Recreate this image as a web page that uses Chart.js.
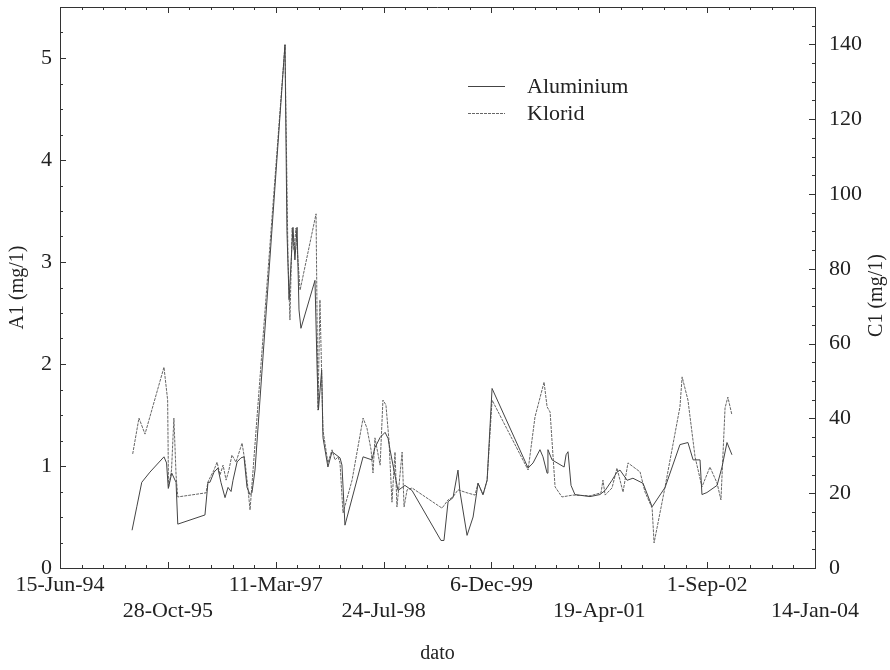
<!DOCTYPE html>
<html><head><meta charset="utf-8">
<script src="https://cdn.jsdelivr.net/npm/chart.js@4/dist/chart.umd.min.js"></script>
<style>html,body{margin:0;padding:0;background:#fff}#wrap{width:890px;height:670px}</style>
</head><body><div id="wrap"><canvas id="c" width="890" height="670"></canvas></div>
<script>
// x axis: days since 15-Jun-1994, one tick label every 500 days
const tickLabels = ['15-Jun-94','28-Oct-95','11-Mar-97','24-Jul-98','6-Dec-99','19-Apr-01','1-Sep-02','14-Jan-04'];

// Aluminium (mg/l), left axis
const alDays = [334,356,379,417,482,494,502,518,538,546,672,686,695,714,732,746,765,779,793,802,821,839,853,867,881,890,904,
  1043,1052,1062,1080,1089,1099,1108,1117,1182,1192,1198,1213,1219,1242,1261,1298,1307,1321,1405,1446,1460,1484,1507,1521,1530,
  1548,1567,1599,1632,1766,1780,1799,1822,1845,1854,1887,1915,1938,1961,1980,2003,2170,2193,2225,2239,2258,2262,2281,2337,2346,
  2355,2369,2387,2457,2503,2527,2559,2582,2596,2629,2656,2703,2745,2805,2874,2911,2935,2967,2976,2999,3046,3069,3092,3115];
const alValues = [0.37,0.60,0.84,0.94,1.09,1.03,0.78,0.93,0.84,0.43,0.52,0.84,0.84,0.94,0.98,0.84,0.69,0.79,0.75,0.86,1.04,1.08,1.09,0.79,0.72,0.74,0.96,
  5.13,3.31,2.63,3.34,3.02,3.34,2.53,2.35,2.82,1.94,1.55,1.94,1.28,0.99,1.14,1.08,1.01,0.42,1.09,1.06,1.18,1.28,1.33,1.27,1.16,
  0.96,0.76,0.81,0.76,0.27,0.27,0.65,0.69,0.96,0.75,0.32,0.50,0.83,0.72,0.86,1.76,0.98,1.03,1.16,1.09,0.93,1.16,1.06,0.99,1.11,
  1.14,0.81,0.72,0.70,0.72,0.76,0.86,0.94,0.96,0.86,0.88,0.83,0.60,0.79,1.21,1.23,1.06,1.06,0.72,0.74,0.81,0.99,1.23,1.11];

// Klorid (mg/l), right axis
const clDays = [337,366,394,482,499,503,517,528,538,546,677,686,695,714,728,742,756,770,783,797,816,834,844,858,872,881,895,
  1043,1057,1066,1076,1085,1094,1103,1113,1187,1196,1205,1219,1242,1261,1275,1289,1298,1312,1354,1405,1423,1442,1451,1460,1484,
  1497,1511,1525,1539,1553,1562,1586,1595,1609,1632,1771,1799,1822,1845,1887,1924,1938,1961,1980,2003,2170,2202,2244,2258,2272,
  2295,2327,2378,2457,2508,2517,2527,2559,2582,2610,2633,2689,2712,2745,2754,2805,2874,2884,2911,2944,2976,3013,3046,3064,3083,3096,3115];
const clValues = [30.5,40.1,35.8,53.7,44.9,21.4,26.2,40.1,24.9,19.0,20.1,23.0,24.1,26.2,28.3,24.9,27.5,23.5,26.2,30.2,28.3,31.6,33.4,28.3,20.9,15.5,26.2,
  139.9,82.4,66.3,90.9,85.0,90.9,82.4,74.3,94.7,42.2,71.7,36.9,28.1,31.6,28.9,29.7,28.1,14.7,23.5,40.1,37.4,31.6,25.4,34.8,27.5,
  44.9,43.6,34.2,17.6,31.0,16.3,31.0,16.3,20.9,21.4,16.0,18.2,19.0,20.9,20.1,19.5,22.7,19.5,23.5,44.9,26.2,40.4,49.7,43.1,41.7,
  21.7,19.0,19.5,19.3,20.1,23.5,19.5,21.4,26.7,20.3,28.1,25.7,20.3,16.0,6.7,21.7,43.1,51.1,44.9,29.7,21.7,27.0,22.7,18.2,42.8,45.7,40.9];

const FONT = 'Liberation Serif, "Times New Roman", serif';
const INK = '#222';

const frameTicks = {
  id: 'frameTicks',
  afterDraw(chart) {
    const {ctx, chartArea: a, scales} = chart;
    ctx.save();
    ctx.strokeStyle = '#333';
    ctx.lineWidth = 1;
    ctx.beginPath();
    ctx.moveTo(a.left, a.top + 0.5); ctx.lineTo(a.right, a.top + 0.5);
    for (let v = 0; v <= 3500; v += 100) {
      const p = Math.round(scales.x.getPixelForValue(v)) + 0.5;
      const len = v % 500 === 0 ? 6 : 3;
      ctx.moveTo(p, a.bottom); ctx.lineTo(p, a.bottom - len);
      ctx.moveTo(p, a.top); ctx.lineTo(p, a.top + len);
    }
    for (let v = 0; v <= 5.5; v += 0.25) {
      const p = Math.round(scales.yAl.getPixelForValue(v)) + 0.5;
      const len = Math.abs(v - Math.round(v)) < 1e-6 ? 6 : 3;
      ctx.moveTo(a.left, p); ctx.lineTo(a.left + len, p);
    }
    for (let v = 0; v <= 150; v += 5) {
      const p = Math.round(scales.yCl.getPixelForValue(v)) + 0.5;
      const len = v % 20 === 0 ? 6 : 3;
      ctx.moveTo(a.right, p); ctx.lineTo(a.right - len, p);
    }
    ctx.stroke();

    // right axis title, reading bottom-to-top
    ctx.fillStyle = INK;
    ctx.font = '20px ' + FONT;
    ctx.textAlign = 'center';
    ctx.textBaseline = 'middle';
    ctx.translate(877, (a.top + a.bottom) / 2 + 8);
    ctx.rotate(-Math.PI / 2);
    ctx.fillText('C1 (mg/1)', 0, 0);
    ctx.restore();

    // legend
    ctx.save();
    const lx = a.left + 408, ly = a.top + 79;
    chart.data.datasets.forEach((ds, i) => {
      const y = ly + i * 27;
      ctx.strokeStyle = ds.borderColor;
      ctx.lineWidth = ds.borderWidth;
      ctx.setLineDash(ds.borderDash || []);
      ctx.beginPath();
      ctx.moveTo(lx, y + 0.5); ctx.lineTo(lx + 37, y + 0.5);
      ctx.stroke();
      ctx.setLineDash([]);
      ctx.fillStyle = INK;
      ctx.font = '22px ' + FONT;
      ctx.textAlign = 'left';
      ctx.textBaseline = 'middle';
      ctx.fillText(ds.label, lx + 59, y + 1);
    });
    ctx.restore();
  }
};

const noPad = s => { s.paddingTop = 0; s.paddingBottom = 0; };

new Chart(document.getElementById('c'), {
  type: 'line',
  data: {
    datasets: [
      {label: 'Aluminium', data: alDays.map((d, i) => ({x: d, y: alValues[i]})), yAxisID: 'yAl',
       borderColor: '#444', borderWidth: 1, pointRadius: 0, tension: 0},
      {label: 'Klorid', data: clDays.map((d, i) => ({x: d, y: clValues[i]})), yAxisID: 'yCl',
       borderColor: '#666', borderWidth: 1, borderDash: [3, 1], pointRadius: 0, tension: 0}
    ]
  },
  options: {
    responsive: false,
    animation: false,
    layout: {padding: {top: 7, left: 0, right: 0, bottom: 0}},
    plugins: {legend: {display: false}, tooltip: {enabled: false}},
    scales: {
      x: {
        type: 'linear', min: 0, max: 3500,
        grid: {display: false, drawTicks: false},
        border: {display: true, color: '#333'},
        ticks: {
          stepSize: 500, autoSkip: false, maxRotation: 0, padding: 4,
          color: INK, font: {family: FONT, size: 22},
          callback: (v, i) => { const t = tickLabels[Math.round(v / 500)] || ''; return i % 2 === 0 ? [t, ''] : ['', t]; }
        },
        title: {display: true, text: 'dato', color: INK, font: {family: FONT, size: 20}, padding: {top: 0, bottom: 4}},
        afterFit: s => { s.height = 102; s.paddingLeft = 0; s.paddingRight = 0; }
      },
      yAl: {
        type: 'linear', position: 'left', min: 0, max: 5.5,
        grid: {display: false, drawTicks: false},
        border: {display: true, color: '#333'},
        ticks: {stepSize: 1, padding: 8, color: INK, font: {family: FONT, size: 22},
          callback: v => (Math.abs(v - Math.round(v)) < 1e-6 ? String(v) : '')},
        title: {display: true, text: 'A1 (mg/1)', color: INK, font: {family: FONT, size: 20}, padding: {top: 6, bottom: 0}},
        afterFit: s => { s.width = 60; noPad(s); }
      },
      yCl: {
        type: 'linear', position: 'right', min: 0, max: 150,
        grid: {display: false, drawTicks: false},
        border: {display: true, color: '#333'},
        ticks: {stepSize: 20, padding: 14, color: INK, font: {family: FONT, size: 22},
          callback: v => (v % 20 === 0 ? String(v) : '')},
        afterFit: s => { s.width = 75; noPad(s); }
      }
    }
  },
  plugins: [frameTicks]
});
</script>
</body></html>
